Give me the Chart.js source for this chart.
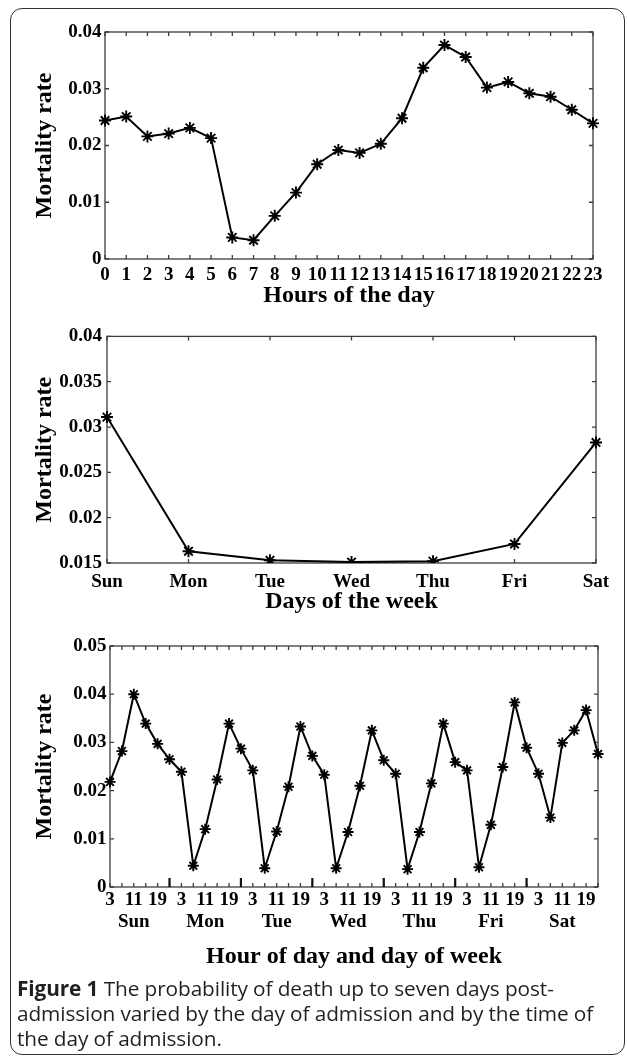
<!DOCTYPE html>
<html>
<head>
<meta charset="utf-8">
<script src="https://cdn.jsdelivr.net/npm/chart.js@4"></script>
<style>
html,body{margin:0;padding:0;background:#fff;}
body{width:627px;height:1060px;position:relative;overflow:hidden;}
#frame{position:absolute;left:10px;top:8px;height:1047px;border:1.6px solid #333;border-radius:12px;box-sizing:border-box;width:615px;}
.cv{position:absolute;left:0;}
#caption{position:absolute;left:17px;top:976px;font-family:'Open Sans',sans-serif;font-size:20.8px;line-height:25px;color:#231f20;white-space:nowrap;letter-spacing:-0.1px;}
#caption b{font-weight:700;}
</style>
</head>
<body>
<div id="frame"></div>
<canvas id="c1" class="cv" style="top:0px" width="627" height="320"></canvas>
<canvas id="c2" class="cv" style="top:320px" width="627" height="300"></canvas>
<canvas id="c3" class="cv" style="top:620px" width="627" height="360"></canvas>
<div id="caption"><b>Figure 1</b> The probability of death up to seven days post-<br>admission varied by the day of admission and by the time of<br>the day of admission.</div>
<script>
// ---------- data ----------
const hourLabels = ['0','1','2','3','4','5','6','7','8','9','10','11','12','13','14','15','16','17','18','19','20','21','22','23'];
const hourlyRate = [0.0244,0.0251,0.0216,0.0221,0.0231,0.0213,0.0038,0.0033,0.0076,0.0117,0.0167,0.0192,0.0187,0.0203,0.0248,0.0337,0.0377,0.0356,0.0302,0.0312,0.0292,0.0286,0.0263,0.0239];

const dayLabels = ['Sun','Mon','Tue','Wed','Thu','Fri','Sat'];
const dailyRate = [0.0311,0.0163,0.0153,0.0151,0.0152,0.0171,0.0283];

const slotHours = [3,7,11,15,19,23];
const slotTickText = ['3','','11','','19',''];
const sunRate = [0.0218,0.0282,0.0400,0.0339,0.0297,0.0265];
const monRate = [0.0239,0.0044,0.0120,0.0223,0.0339,0.0287];
const tueRate = [0.0242,0.0039,0.0115,0.0208,0.0333,0.0272];
const wedRate = [0.0233,0.0039,0.0114,0.0210,0.0325,0.0263];
const thuRate = [0.0235,0.0037,0.0114,0.0215,0.0339,0.0259];
const friRate = [0.0242,0.0041,0.0129,0.0249,0.0383,0.0289];
const satRate = [0.0235,0.0144,0.0299,0.0325,0.0367,0.0276];

const yTicks1 = [0,0.04,0.01];
const yTicks2 = [0.015,0.04,0.005];
const yTicks3 = [0,0.05,0.01];

// ---------- helpers ----------
const SERIF = "'Liberation Serif','Times New Roman',serif";
const tickFont = {family: SERIF, size: 19, weight: 'bold'};
const titleFont = {family: SERIF, size: 24, weight: 'bold'};

const boxPlugin = {
  id: 'matlabBox',
  beforeDatasetsDraw(chart, args, o) {
    const {ctx, chartArea: a} = chart;
    const xs = chart.scales.x, ys = chart.scales.y;
    ctx.save();
    ctx.strokeStyle = '#3c3c3c';
    ctx.lineWidth = 1.3;
    ctx.strokeRect(a.left, a.top, a.right - a.left, a.bottom - a.top);
    ctx.beginPath();
    const L = o.len || 4;
    xs.ticks.forEach((t, i) => {
      const p = xs.getPixelForTick(i);
      ctx.moveTo(p, a.bottom); ctx.lineTo(p, a.bottom - L);
      ctx.moveTo(p, a.top); ctx.lineTo(p, a.top + L);
    });
    ys.ticks.forEach((t, i) => {
      const p = ys.getPixelForTick(i);
      ctx.moveTo(a.left, p); ctx.lineTo(a.left + L, p);
      ctx.moveTo(a.right, p); ctx.lineTo(a.right - L, p);
    });
    ctx.stroke();
    if (o.majorEvery) {
      ctx.beginPath();
      ctx.lineWidth = 2.2;
      ctx.strokeStyle = '#111';
      xs.ticks.forEach((t, i) => {
        if (i % o.majorEvery === o.majorEvery - 1 && i < xs.ticks.length - 1) {
          const p = xs.getPixelForTick(i);
          ctx.moveTo(p, a.bottom); ctx.lineTo(p, a.bottom - o.majorLen);
        }
      });
      ctx.stroke();
    }
    ctx.restore();
  }
};

function fmt(v) { return String(Number(v.toFixed(4))); }

function makeChart(id, cfg) {
  const H = cfg.h;
  const a = cfg.area;
  return new Chart(document.getElementById(id), {
    type: 'line',
    data: {
      labels: cfg.labels,
      datasets: [{
        data: cfg.data,
        borderColor: '#000',
        borderWidth: 2,
        pointStyle: 'star',
        pointRadius: cfg.pr || 6,
        pointBorderWidth: 1.9,
        pointBorderColor: '#000',
        pointBackgroundColor: '#000',
        tension: 0,
        fill: false
      }]
    },
    options: {
      responsive: false,
      animation: false,
      events: [],
      layout: {padding: {left: 0, top: a.top, right: 627 - a.right, bottom: 0}},
      plugins: {legend: {display: false}, tooltip: {enabled: false}, matlabBox: cfg.box || {}},
      scales: {
        x: {
          type: 'category',
          offset: false,
          grid: {display: false, drawTicks: false},
          border: {display: false},
          ticks: {
            autoSkip: false, maxRotation: 0, minRotation: 0,
            color: '#000', font: Object.assign({}, tickFont, cfg.xTickLH ? {lineHeight: cfg.xTickLH} : {}),
            padding: cfg.xPad,
            callback: cfg.xCb || function(v, i) { return this.getLabelForValue(v); }
          },
          title: {display: true, text: cfg.xTitle, color: '#000', font: titleFont, padding: {top: 0, bottom: cfg.xTitlePad}},
          afterFit(s) { s.height = H - a.bottom; }
        },
        y: {
          min: cfg.y[0], max: cfg.y[1],
          grid: {display: false, drawTicks: false},
          border: {display: false},
          ticks: {stepSize: cfg.y[2], color: '#000', font: tickFont, padding: cfg.yPad, callback: v => fmt(v)},
          title: {display: true, text: 'Mortality rate', color: '#000', font: titleFont, padding: {top: 30.6, bottom: 0}},
          afterFit(s) { s.width = a.left; }
        }
      }
    },
    plugins: [boxPlugin]
  });
}

// chart 1: hours of the day
makeChart('c1', {
  h: 320, area: {left: 105, right: 593, top: 32, bottom: 259},
  labels: hourLabels, data: hourlyRate, y: yTicks1,
  xTitle: 'Hours of the day', xTitlePad: 10, xPad: 5, yPad: 3.5,
  box: {len: 4}
});

// chart 2: days of the week
makeChart('c2', {
  h: 300, area: {left: 107, right: 596, top: 14, bottom: 243},
  labels: dayLabels, data: dailyRate, y: yTicks2,
  xTitle: 'Days of the week', xTitlePad: 4, xPad: 7.5, yPad: 5,
  box: {len: 4}
});

// chart 3: hour of day and day of week
const weekRates = [sunRate, monRate, tueRate, wedRate, thuRate, friRate, satRate];
const weekLabels = [];
const weekData = [];
weekRates.forEach((arr, d) => arr.forEach((v, s) => {
  weekLabels.push(dayLabels[d] + ' ' + slotHours[s]);
  weekData.push(v);
}));
makeChart('c3', {
  h: 360, area: {left: 110, right: 598, top: 26, bottom: 267},
  labels: weekLabels, data: weekData, y: yTicks3, pr: 5.5,
  xTitle: 'Hour of day and day of week', xTitlePad: 8.5, xPad: 2, yPad: 3.5, xTickLH: 1.15,
  xCb: function(v, i) {
    const s = i % slotHours.length, d = Math.floor(i / slotHours.length);
    const t = slotTickText[s];
    return s === 2 ? [t, dayLabels[d]] : t;
  },
  box: {len: 4, majorEvery: 6, majorLen: 9}
});
</script>
</body>
</html>
